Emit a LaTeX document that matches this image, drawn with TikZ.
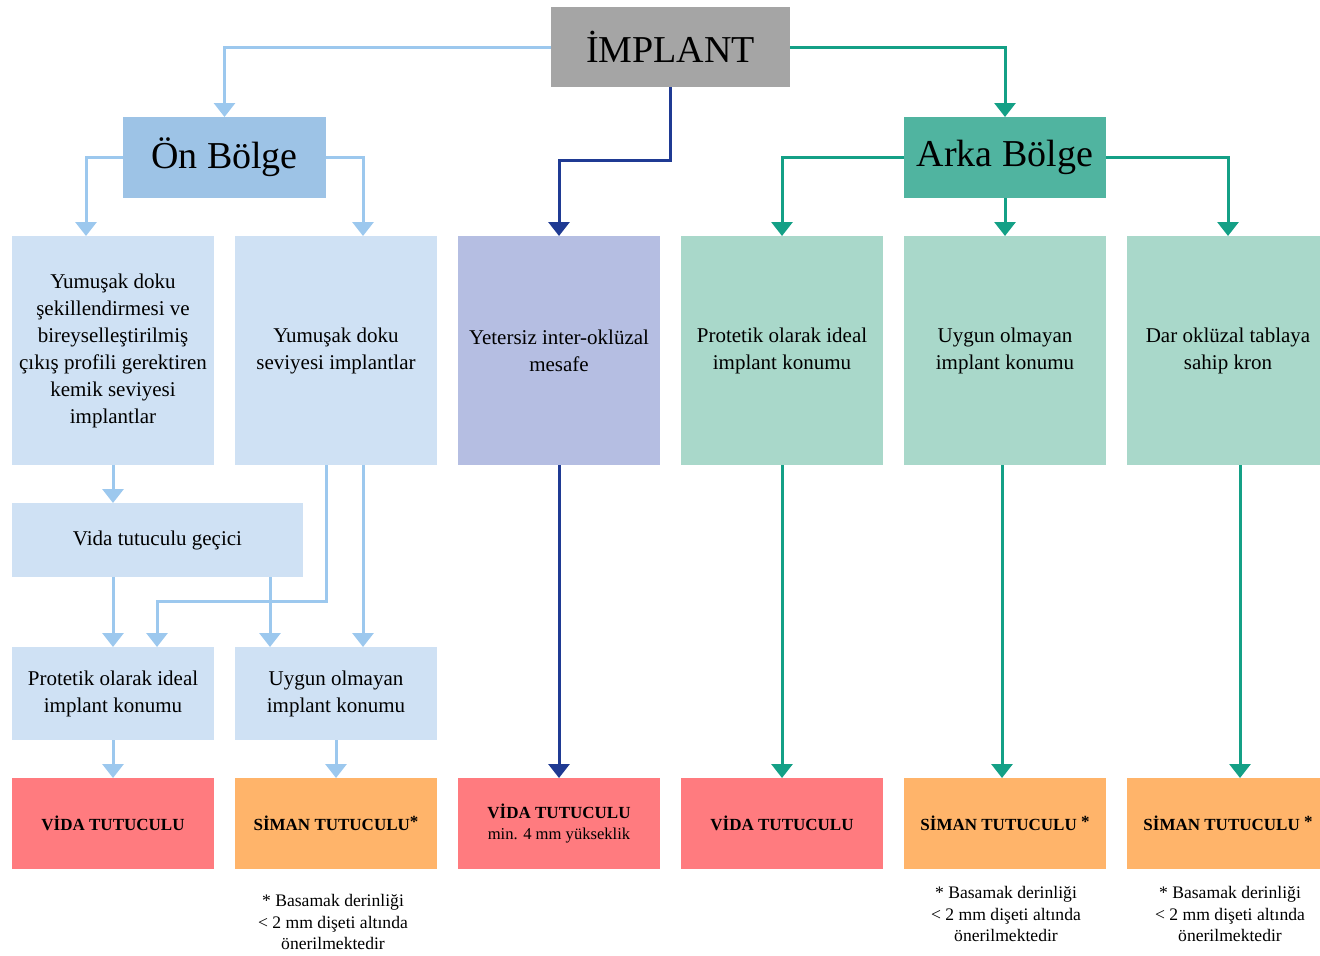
\documentclass[tikz,border=0pt]{standalone}
\usepackage{fontspec}
\setmainfont{Liberation Serif}
\usepackage{tikz}
\usetikzlibrary{positioning,arrows.meta}

\definecolor{implgray}{HTML}{A5A5A5}
\definecolor{onblue}{HTML}{9DC3E6}
\definecolor{paleblue}{HTML}{CFE1F4}
\definecolor{lavender}{HTML}{B5BEE2}
\definecolor{arkagreen}{HTML}{50B4A0}
\definecolor{mint}{HTML}{A9D8CA}
\definecolor{vidared}{HTML}{FF7B7F}
\definecolor{simanorange}{HTML}{FFB46A}
\definecolor{lblue}{HTML}{9CC8EE}
\definecolor{teal}{HTML}{14A086}
\definecolor{dblue}{HTML}{1F3A93}

\newcommand{\ystar}{\raisebox{0.45ex}{*}}

\begin{document}
\begin{tikzpicture}[x=0.5pt, y=-0.5pt,
    box/.style={rectangle, inner sep=0pt, outer sep=0pt, align=center, text=black},
    big/.style={box, font=\fontsize{19}{22}\selectfont},
    mid/.style={box, minimum width=101pt, font=\fontsize{10.5}{13.5}\selectfont},
    res/.style={box, minimum width=101pt, minimum height=45.5pt, font=\bfseries\fontsize{8.5}{10.5}\selectfont},
    note/.style={align=center, inner sep=0pt, font=\fontsize{8.8}{10.6}\selectfont},
    tip/.style={-{Triangle[width=10.5pt,length=7pt]}, line width=1.5pt},
    lightarr/.style={tip, draw=lblue},
    darkarr/.style={tip, draw=dblue},
    tealarr/.style={tip, draw=teal}]
    \useasboundingbox (0,0) rectangle (1320,955);

    \node[big, fill=implgray, minimum width=119.5pt, minimum height=40pt] (implant) at (670.5,47) {İMPLANT};
    \node[big, fill=onblue, minimum width=101.5pt, minimum height=40.5pt] (on) at (224.5,157.5) {Ön Bölge};
    \node[big, fill=arkagreen, minimum width=101pt, minimum height=40.5pt] (arka) at (1005,157.5) {Arka Bölge};

    \node[mid, fill=paleblue, minimum height=114.5pt] (b1) at (113,350.5) {Yumuşak doku\\şekillendirmesi ve\\bireyselleştirilmiş\\çıkış profili gerektiren\\kemik seviyesi\\implantlar};
    \node[mid, fill=paleblue, minimum height=114.5pt] (b2) at (336,350.5) {Yumuşak doku\\seviyesi implantlar};
    \node[mid, fill=lavender, minimum height=114.5pt] (b3) at (559,350.5) {Yetersiz inter-oklüzal\\mesafe};
    \node[mid, fill=mint, minimum height=114.5pt] (b4) at (782,350.5) {Protetik olarak ideal\\implant konumu};
    \node[mid, fill=mint, minimum height=114.5pt] (b5) at (1005,350.5) {Uygun olmayan\\implant konumu};
    \node[mid, fill=mint, minimum height=114.5pt] (b6) at (1228,350.5) {Dar oklüzal tablaya\\sahip kron};

    \node[mid, fill=paleblue, minimum width=145.5pt, minimum height=37pt] (vida) at (157.5,540) {Vida tutuculu geçici};
    \node[mid, fill=paleblue, minimum height=46.5pt] (r3a) at (113,693.5) {Protetik olarak ideal\\implant konumu};
    \node[mid, fill=paleblue, minimum height=46.5pt] (r3b) at (336,693.5) {Uygun olmayan\\implant konumu};

    \node[res, fill=vidared] (s1) at (113,823.5) {VİDA TUTUCULU};
    \node[res, fill=simanorange] (s2) at (336,823.5) {SİMAN TUTUCULU\ystar};
    \node[res, fill=vidared] (s3) at (559,823.5) {VİDA TUTUCULU\\{\mdseries\fontsize{8.3}{10}\selectfont min. 4 mm yükseklik}};
    \node[res, fill=vidared] (s4) at (782,823.5) {VİDA TUTUCULU};
    \node[res, fill=simanorange] (s5) at (1005,823.5) {SİMAN TUTUCULU \ystar};
    \node[res, fill=simanorange] (s6) at (1228,823.5) {SİMAN TUTUCULU \ystar};

    \node[note] (n2) at (333,922) {* Basamak derinliği\\< 2 mm dişeti altında\\önerilmektedir};
    \node[note] (n5) at (1006,914) {* Basamak derinliği\\< 2 mm dişeti altında\\önerilmektedir};
    \node[note] (n6) at (1230,914) {* Basamak derinliği\\< 2 mm dişeti altında\\önerilmektedir};

    \draw[lightarr] (implant.west) -| (on.north);
    \draw[tealarr] (implant.east) -| (arka.north);
    \draw[darkarr] (implant.south) -- ++(0,73) -| (b3.north);

    \draw[lightarr] (on.west) -| ([xshift=-13.5pt]b1.north);
    \draw[lightarr] (on.east) -| ([xshift=13.5pt]b2.north);
    \draw[tealarr] (arka.west) -| (b4.north);
    \draw[tealarr] (arka.south) -- (b5.north);
    \draw[tealarr] (arka.east) -| (b6.north);

    \draw[lightarr] (b1.south) -- (b1.south |- vida.north);
    \draw[lightarr] (vida.south -| r3a.north) -- (r3a.north);
    \draw[lightarr] ([xshift=-33pt]r3b.north |- vida.south) -- ([xshift=-33pt]r3b.north);
    \draw[lightarr] ([xshift=-5pt]b2.south) -- ++(0,136) -| ([xshift=22pt]r3a.north);
    \draw[lightarr] ([xshift=13.5pt]b2.south) -- ([xshift=13.5pt]r3b.north);

    \draw[lightarr] (r3a.south) -- (s1.north);
    \draw[lightarr] (r3b.south) -- (s2.north);
    \draw[darkarr] (b3.south) -- (s3.north);
    \draw[tealarr] (b4.south) -- (s4.north);
    \draw[tealarr] ([xshift=-1.5pt]b5.south) -- ([xshift=-1.5pt]s5.north);
    \draw[tealarr] ([xshift=6pt]b6.south) -- ([xshift=6pt]s6.north);
\end{tikzpicture}
\end{document}
